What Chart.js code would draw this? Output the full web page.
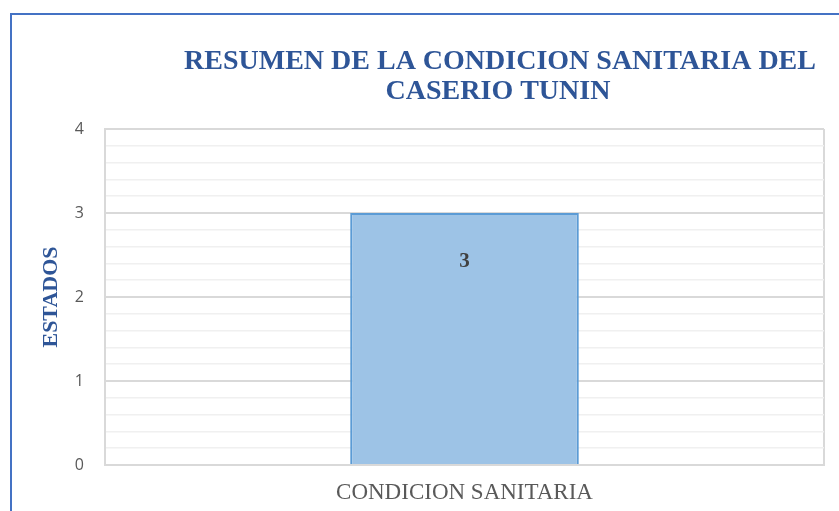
<!DOCTYPE html>
<html lang="es">
<head>
  <meta charset="UTF-8" />
  <title>Resumen de la condicion sanitaria del caserio Tunin</title>
  <script src="https://cdn.jsdelivr.net/npm/chart.js"></script>
  <style>
    body {
      margin: 0;
      padding: 0;
      background: #ffffff;
      overflow: hidden;
    }
    .marco {
      position: absolute;
      left: 10px;
      top: 13px;
      width: 900px;
      height: 600px;
      border-left: 2px solid #4472c4;
      border-top: 2px solid #4472c4;
    }
    #grafico {
      position: absolute;
      left: 0;
      top: 0;
    }
  </style>
</head>
<body>
  <div class="marco"></div>
  <canvas id="grafico" width="839" height="511"></canvas>

  <script>
    const categorias = ['CONDICION SANITARIA'];
    const valores = [3];
    const tituloLineas = ['RESUMEN DE LA CONDICION SANITARIA DEL', 'CASERIO TUNIN'];
    const tituloEjeY = 'ESTADOS';

    const esEntero = v => Math.abs(v - Math.round(v)) < 1e-6;

    // titulo y etiqueta de datos dibujados a mano (Excel los desplaza)
    const extras = {
      id: 'extras',
      afterDraw(chart) {
        const ctx = chart.ctx;
        ctx.save();
        ctx.fillStyle = '#2e5597';
        ctx.font = 'bold 28px "Liberation Serif", serif';
        ctx.textAlign = 'center';
        ctx.textBaseline = 'middle';
        ctx.fillText(tituloLineas[0], 500, 62);
        ctx.fillText(tituloLineas[1], 498, 92);

        const meta = chart.getDatasetMeta(0);
        ctx.fillStyle = '#404040';
        ctx.font = 'bold 21px "Liberation Serif", serif';
        meta.data.forEach((bar, i) => {
          ctx.fillText(String(valores[i]), bar.x, bar.y + 49);
        });
        ctx.restore();
      }
    };

    new Chart(document.getElementById('grafico'), {
      type: 'bar',
      data: {
        labels: categorias,
        datasets: [{
          data: valores,
          backgroundColor: '#9dc3e6',
          borderColor: '#5b9bd5',
          borderWidth: 2,
          categoryPercentage: 1,
          barPercentage: 0.318
        }]
      },
      options: {
        responsive: false,
        animation: false,
        layout: { padding: { left: 0, right: 15, top: 129, bottom: 0 } },
        plugins: {
          legend: { display: false },
          title: { display: false },
          tooltip: { enabled: false }
        },
        scales: {
          x: {
            offset: true,
            grid: { offset: true, color: '#d9d9d9', lineWidth: 2, drawTicks: false },
            border: { color: '#d9d9d9', width: 2 },
            ticks: {
              padding: 14,
              color: '#595959',
              font: { family: '"Liberation Serif", serif', size: 23 }
            },
            afterFit(scale) { scale.height = 46; }
          },
          y: {
            min: 0,
            max: 4,
            grid: {
              drawTicks: false,
              color: ctx => esEntero(ctx.tick.value) ? '#d9d9d9' : '#f0f0f0',
              lineWidth: ctx => esEntero(ctx.tick.value) ? 2 : 1.5
            },
            border: { color: '#d9d9d9', width: 2 },
            ticks: {
              stepSize: 0.2,
              autoSkip: false,
              padding: 21,
              color: '#595959',
              font: { family: '"Open Sans", sans-serif', size: 16 },
              callback: v => esEntero(v) ? String(Math.round(v)) : ''
            },
            title: {
              display: true,
              text: tituloEjeY,
              color: '#2e5597',
              font: { family: '"Liberation Serif", serif', size: 22, weight: 'bold' },
              padding: { top: 38, bottom: 0 }
            },
            afterFit(scale) { scale.width = 105; }
          }
        }
      },
      plugins: [extras]
    });
  </script>
</body>
</html>
